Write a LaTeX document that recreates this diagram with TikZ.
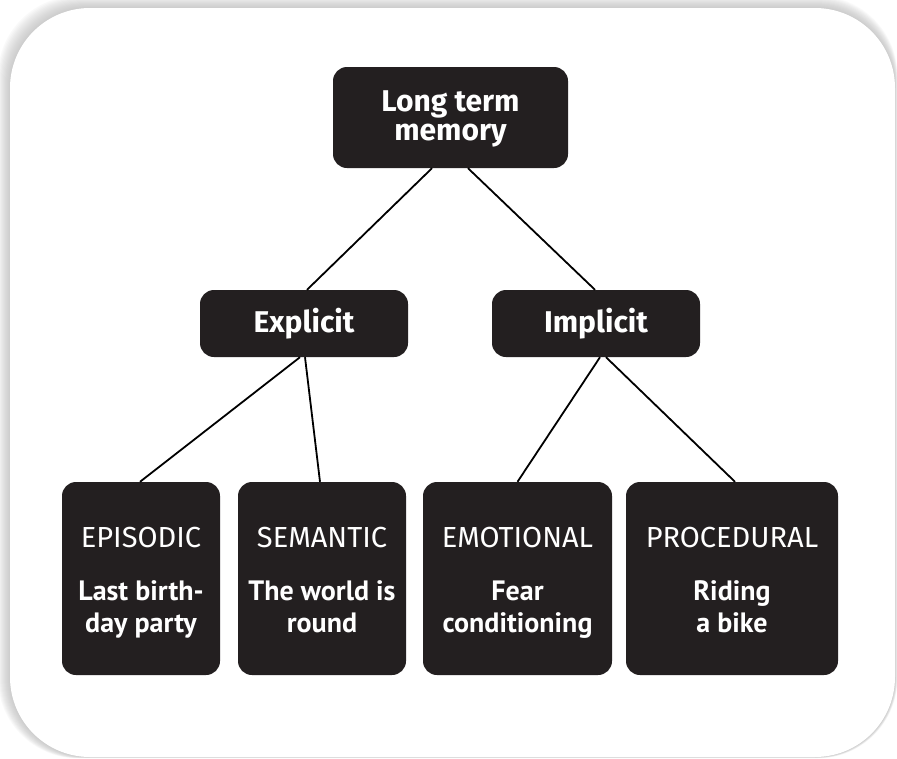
\documentclass[tikz,border=0pt]{standalone}
\usepackage{fontspec}
\setmainfont{Fira Sans}
\newfontfamily\bodyfont{PT Sans}
\definecolor{boxblack}{HTML}{231F20}
\definecolor{shadowgray}{HTML}{A8A8A8}
\tikzset{
  card/.style={fill=white, rounded corners=80pt},
  darkbox/.style={fill=boxblack, rounded corners=14pt, inner sep=0pt},
  headtext/.style={text=white, align=center, font=\fontsize{30}{29}\selectfont\bfseries},
  captext/.style={text=white, anchor=base, font=\fontsize{29}{30}\selectfont},
  bodytext/.style={text=white, anchor=base, align=center, font=\bodyfont\bfseries\fontsize{28}{32}\selectfont},
  link/.style={draw=black, line width=1.8pt}
}
\begin{document}
\begin{tikzpicture}[x=1pt,y=-1pt]
\useasboundingbox (0,0) rectangle (897,758);
% shadow
\fill[white] (0,0) rectangle (897,758);
\foreach \i in {0,...,12}{
  \fill[shadowgray, opacity=0.06, rounded corners=80pt] (10-\i,8-\i) rectangle (895+0.2*\i,757+0.1*\i);
}
\fill[card] (10,8) rectangle (895,757);

% nodes
\node[darkbox, minimum width=235pt, minimum height=101pt] (ltm) at (450.5,117.5) {};
\node[headtext] (ltmt) at (450.5,119) {Long term\\memory};
\node[darkbox, minimum width=208pt, minimum height=67pt] (expl) at (304,323.5) {};
\node[headtext] (explt) at (304,323.5) {Explicit};
\node[darkbox, minimum width=208pt, minimum height=67pt] (impl) at (596,323.5) {};
\node[headtext] (implt) at (596,323.5) {Implicit};

\node[darkbox, minimum width=158pt, minimum height=193pt] (epi) at (141,578.5) {};
\node[darkbox, minimum width=168pt, minimum height=193pt] (sem) at (322,578.5) {};
\node[darkbox, minimum width=189pt, minimum height=193pt] (emo) at (517.5,578.5) {};
\node[darkbox, minimum width=212pt, minimum height=193pt] (pro) at (732,578.5) {};

\node[captext] (epic) at (141,547) {EPISODIC};
\node[captext] (semc) at (322,547) {SEMANTIC};
\node[captext] (emoc) at (517.5,547) {EMOTIONAL};
\node[captext] (proc) at (732,547) {PROCEDURAL};

\node[bodytext] (epib) at (141,632) {Last birth-\\day party};
\node[bodytext] (semb) at (322,632) {The world is\\round};
\node[bodytext] (emob) at (517.5,632) {Fear\\conditioning};
\node[bodytext] (prob) at (732,632) {Riding\\a bike};

% connectors
\draw[link] ([xshift=-18.5pt]ltm.south) -- ([xshift=3pt]expl.north);
\draw[link] ([xshift=17.5pt]ltm.south) -- ([xshift=-1pt]impl.north);
\draw[link] ([xshift=-4pt]expl.south) -- ([xshift=-1pt]epi.north);
\draw[link] ([xshift=1pt]expl.south) -- ([xshift=-2pt]sem.north);
\draw[link] ([xshift=4pt]impl.south) -- ([xshift=0pt]emo.north);
\draw[link] ([xshift=10pt]impl.south) -- ([xshift=3pt]pro.north);
\end{tikzpicture}
\end{document}
